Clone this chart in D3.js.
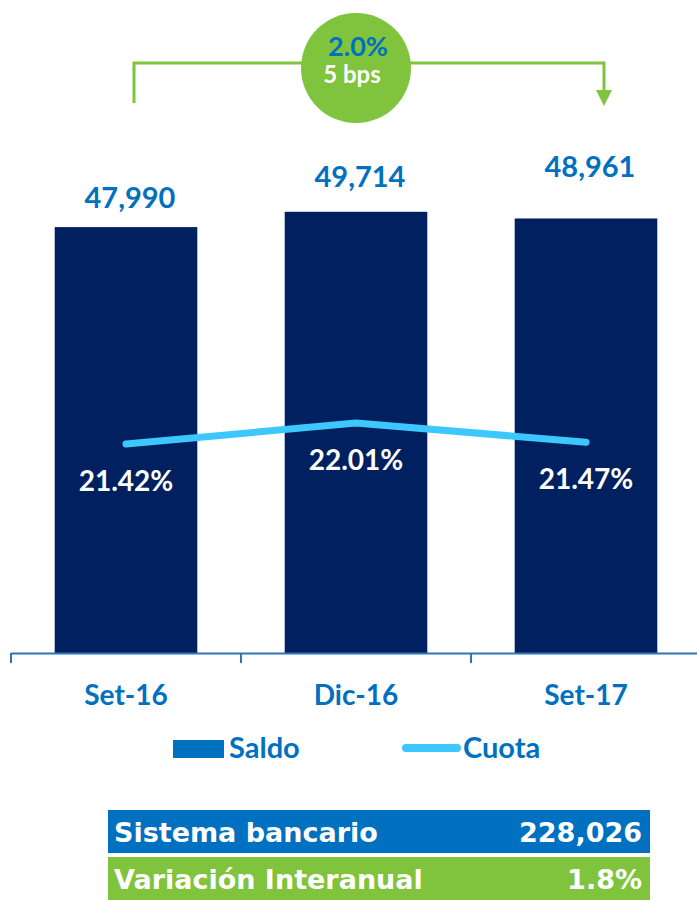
<!DOCTYPE html>
<html>
<head>
<meta charset="utf-8">
<script src="https://cdn.jsdelivr.net/npm/d3@7"></script>
<style>
  body { margin: 0; background: #fff; }
  svg text { font-family: Lato, sans-serif; font-weight: bold; }
  svg text.tbl { font-family: "DejaVu Sans", sans-serif; }
</style>
</head>
<body>
<script>
// chart data
var periods = ["Set-16", "Dic-16", "Set-17"];
var saldo = [47990, 49714, 48961];
var cuota = [21.42, 22.01, 21.47];
var variacion = "2.0%";
var bps = "5 bps";
var tabla = [["Sistema bancario", "228,026"], ["Variación Interanual", "1.8%"]];

// extra lift of each value label over its bar (layout only)
var labelLift = [19, 25, 41];

var width = 697, height = 900;
var baseY = 653;

var svg = d3.select("body").append("svg")
    .attr("width", width)
    .attr("height", height);

var x = d3.scaleBand()
    .domain(periods)
    .range([11, 701]);

var y = d3.scaleLinear()
    .domain([0, 56000])
    .range([baseY, 156]);

var y2 = d3.scaleLinear()
    .domain([15.55, 29.51])
    .range([baseY, 156]);

var barW = x.bandwidth() * 0.62;
var cx = function(d){ return x(d) + x.bandwidth() / 2; };

//bars
svg.selectAll(".bar")
    .data(periods)
    .enter()
    .append("rect")
    .attr("class", "bar")
    .attr("x", function(d){ return cx(d) - barW / 2; })
    .attr("y", function(d, i){ return y(saldo[i]); })
    .attr("width", barW)
    .attr("height", function(d, i){ return baseY - y(saldo[i]); })
    .attr("fill", "#002060");

//value labels
svg.selectAll(".val")
    .data(periods)
    .enter()
    .append("text")
    .attr("x", function(d){ return cx(d) + 4; })
    .attr("y", function(d, i){ return y(saldo[i]) - labelLift[i]; })
    .attr("text-anchor", "middle")
    .attr("font-size", 29)
    .attr("fill", "#0070c0")
    .text(function(d, i){ return d3.format(",")(saldo[i]); });

//x axis
var axis = svg.append("g").attr("class", "axis");
axis.append("line")
    .attr("x1", x.range()[0]).attr("x2", width)
    .attr("y1", baseY + 0.5).attr("y2", baseY + 0.5)
    .attr("stroke", "#2e75b6").attr("stroke-width", 2);
axis.selectAll(".tick")
    .data(periods)
    .enter()
    .append("line")
    .attr("x1", function(d){ return x(d); })
    .attr("x2", function(d){ return x(d); })
    .attr("y1", baseY)
    .attr("y2", baseY + 10)
    .attr("stroke", "#2e75b6").attr("stroke-width", 2);
axis.selectAll(".lbl")
    .data(periods)
    .enter()
    .append("text")
    .attr("x", cx)
    .attr("y", 705)
    .attr("text-anchor", "middle")
    .attr("font-size", 28)
    .attr("fill", "#0070c0")
    .text(function(d){ return d; });

//cuota line
var line = d3.line()
    .x(function(d, i){ return cx(periods[i]); })
    .y(function(d){ return y2(d); });

svg.append("path")
    .datum(cuota)
    .attr("d", line)
    .attr("fill", "none")
    .attr("stroke", "#3cc8ff")
    .attr("stroke-width", 7)
    .attr("stroke-linecap", "round")
    .attr("stroke-linejoin", "round");

svg.selectAll(".pct")
    .data(cuota)
    .enter()
    .append("text")
    .attr("x", function(d, i){ return cx(periods[i]); })
    .attr("y", function(d){ return y2(d) + 47; })
    .attr("text-anchor", "middle")
    .attr("font-size", 28)
    .attr("fill", "#fff")
    .text(function(d){ return d.toFixed(2) + "%"; });

//legend
var leg = svg.append("g");
leg.append("rect")
    .attr("x", 173).attr("y", 740)
    .attr("width", 51).attr("height", 18)
    .attr("fill", "#0070c0");
leg.append("text")
    .attr("x", 229).attr("y", 758)
    .attr("font-size", 29).attr("fill", "#0070c0")
    .text("Saldo");
leg.append("line")
    .attr("x1", 406).attr("x2", 457)
    .attr("y1", 748).attr("y2", 748)
    .attr("stroke", "#3cc8ff").attr("stroke-width", 8)
    .attr("stroke-linecap", "round");
leg.append("text")
    .attr("x", 463).attr("y", 758)
    .attr("font-size", 29).attr("fill", "#0070c0")
    .text("Cuota");

//variation bracket
var green = "#80c33c";
var x0 = cx(periods[0]) + 8, x1 = cx(periods[2]) + 18;
var bracket = svg.append("g");
bracket.append("path")
    .attr("d", "M" + x0 + ",103V63H" + x1 + "V92")
    .attr("fill", "none")
    .attr("stroke", green)
    .attr("stroke-width", 3);
bracket.append("path")
    .attr("d", "M" + (x1 - 8) + ",90L" + (x1 + 8) + ",90L" + x1 + ",106Z")
    .attr("fill", green);
bracket.append("circle")
    .attr("cx", 356).attr("cy", 68).attr("r", 55)
    .attr("fill", green);
bracket.append("text")
    .attr("x", 358).attr("y", 56)
    .attr("text-anchor", "middle")
    .attr("font-size", 27).attr("fill", "#0070c0")
    .text(variacion);
bracket.append("text")
    .attr("x", 352).attr("y", 83)
    .attr("text-anchor", "middle")
    .attr("font-size", 24).attr("fill", "#fff")
    .text(bps);

//summary table
var rowColors = ["#0070c0", green];
var rows = svg.selectAll(".row")
    .data(tabla)
    .enter()
    .append("g")
    .attr("transform", function(d, i){ return "translate(108," + (810 + i * 47) + ")"; });
rows.append("rect")
    .attr("width", 542).attr("height", 43)
    .attr("fill", function(d, i){ return rowColors[i]; });
rows.append("text")
    .attr("class", "tbl")
    .attr("x", 6).attr("y", 32)
    .attr("font-size", 27).attr("fill", "#fff")
    .text(function(d){ return d[0]; });
rows.append("text")
    .attr("class", "tbl")
    .attr("x", 534).attr("y", 32)
    .attr("text-anchor", "end")
    .attr("font-size", 27).attr("fill", "#fff")
    .text(function(d){ return d[1]; });
</script>
</body>
</html>
